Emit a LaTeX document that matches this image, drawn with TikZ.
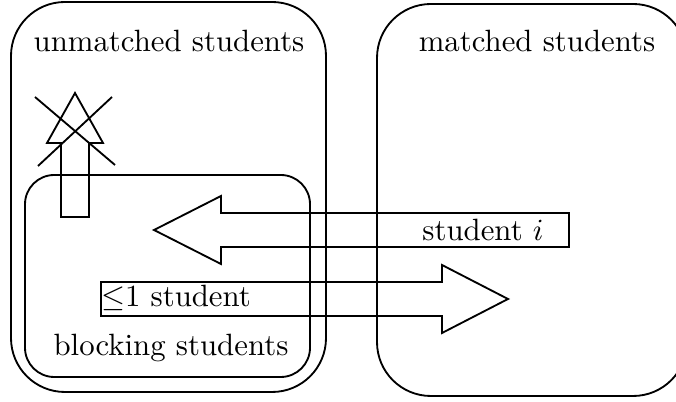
\documentclass[tikz,border=0pt]{standalone}
\usepackage{amsmath}
\usepackage{amssymb}
\begin{document}
\begin{tikzpicture}[x=0.3247pt,y=-0.3247pt,line width=0.6pt,
  set/.style={rounded corners=17.5pt},
  subset/.style={rounded corners=9.5pt}]
\useasboundingbox (0,0) rectangle (676,402);
% the two sets and the subset
\draw[set] (11,2) rectangle (326,392);
\draw[set] (377,4) rectangle (687,396);
\draw[subset] (25,175) rectangle (310,377);
\node[anchor=base] (unmatched) at (169,52) {unmatched students};
\node[anchor=base] (matched) at (537,52) {matched students};
\node[anchor=base] (blocking) at (171,356) {blocking students};
% crossed out arrow
\draw (61,217) -- (61,143) -- (47,143) -- (75,93) -- (103,143) -- (89,143) -- (89,217) -- cycle;
\draw (35,97) -- (115,165);
\draw (112,97) -- (38,166);
% student i
\draw (569,213) -- (221,213) -- (221,196) -- (154,230) -- (221,264) -- (221,247) -- (569,247) -- cycle;
\node[anchor=base] (studi) at (483,241) {student $i$};
% at most one student
\draw (101,282) -- (442,282) -- (442,265) -- (508,299) -- (442,333) -- (442,316) -- (101,316) -- cycle;
\node[anchor=base] (atmost) at (176,307) {$\leq$1 student};
\end{tikzpicture}
\end{document}
